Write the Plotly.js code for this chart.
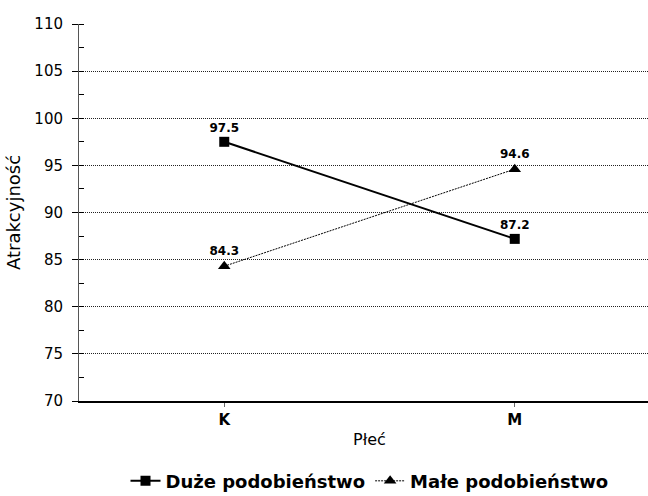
<!DOCTYPE html>
<html>
<head>
<meta charset="utf-8">
<script src="https://cdn.plot.ly/plotly-3.0.1.min.js"></script>
<style>html,body{margin:0;padding:0;overflow:hidden;background:#fff;width:648px;height:496px}</style>
</head>
<body>
<div id="chart" style="width:660px;height:496px"></div>
<script>
const categories = ["K", "M"];
const seriesNames = ["Duże podobieństwo", "Małe podobieństwo"];
const duze = [97.5, 87.2];
const male = [84.3, 94.6];
const duzeLabels = ["97.5", "87.2"];
const maleLabels = ["84.3", "94.6"];
const yTicks = [70, 75, 80, 85, 90, 95, 100, 105, 110];
const gridTicks = [75, 80, 85, 90, 95, 100, 105];

const FONT = "DejaVu Sans, Verdana, sans-serif";
const labelFont = {family: FONT, size: 12, color: "#000", weight: 700};

const traces = [
  {
    x: categories, y: duze, name: seriesNames[0], type: "scatter",
    mode: "lines+markers+text", text: duzeLabels, textposition: "top center",
    textfont: labelFont,
    line: {color: "#000", width: 2},
    marker: {symbol: "square", size: 10, color: "#000"},
    cliponaxis: false
  },
  {
    x: categories, y: male, name: seriesNames[1], type: "scatter",
    mode: "lines+markers+text", text: maleLabels, textposition: "top center",
    textfont: labelFont,
    line: {color: "#000", width: 1, dash: "2px,1px"},
    marker: {symbol: "triangle-up", size: 11, color: "#000"},
    cliponaxis: false
  },
  {
    x: categories, y: duze, yaxis: "y2", type: "scatter", mode: "none",
    showlegend: false, hoverinfo: "skip"
  }
];

const layout = {
  width: 660, height: 496,
  margin: {l: 79, r: 0, t: 24, b: 95, autoexpand: false},
  paper_bgcolor: "#fff", plot_bgcolor: "#fff",
  font: {family: FONT, size: 15, color: "#000"},
  showlegend: true,
  legend: {
    orientation: "h", x: 0.5, xanchor: "center",
    yref: "container", y: 0.03, yanchor: "middle",
    font: {family: FONT, size: 18, color: "#000", weight: 700},
    itemwidth: 30, tracegroupgap: 0
  },
  xaxis: {
    type: "category", range: [-0.5, 1.5],
    showline: true, linecolor: "#000", linewidth: 1.5,
    ticks: "outside", ticklen: 4, tickcolor: "#666", showgrid: false, zeroline: false,
    tickfont: {size: 15, weight: 700},
    title: {text: "Płeć", font: {size: 16}, standoff: 6}
  },
  yaxis: {
    range: [70, 110], tickvals: yTicks, ticktext: yTicks.map(String),
    showline: true, linecolor: "#555", linewidth: 1,
    ticks: "outside", ticklen: 6, tickcolor: "#000", ticklabelstandoff: 6,
    minor: {ticks: "inside", dtick: 2.5, tick0: 70, ticklen: 5, tickcolor: "#000", showgrid: false},
    showgrid: false, zeroline: false,
    tickfont: {size: 15},
    title: {text: "Atrakcyjność", font: {size: 18}, standoff: 9}
  },
  yaxis2: {
    overlaying: "y", matches: "y", range: [70, 110], tickvals: gridTicks,
    showticklabels: false, ticks: "", showline: false, zeroline: false,
    showgrid: true, gridcolor: "#222", gridwidth: 1, griddash: "1px,1px"
  }
};

Plotly.newPlot("chart", traces, layout, {displayModeBar: false, staticPlot: true});
</script>
</body>
</html>
